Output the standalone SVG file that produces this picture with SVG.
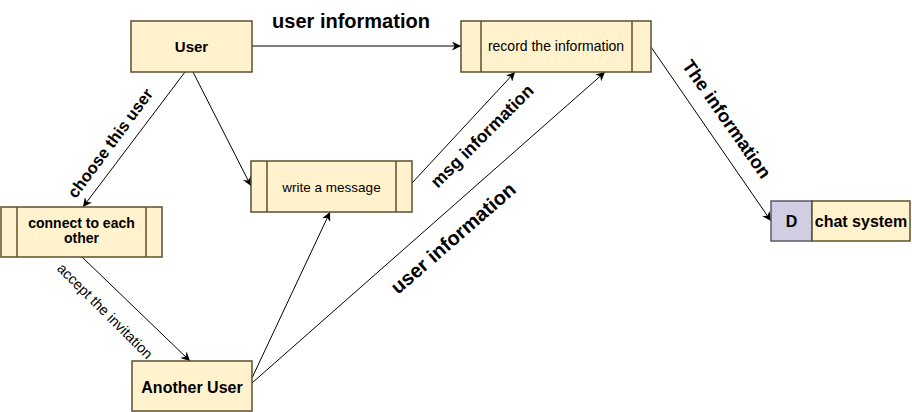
<svg xmlns="http://www.w3.org/2000/svg" width="912" height="412" viewBox="0 0 912 412">
<defs>
<marker id="arr" viewBox="0 0 10 10" refX="10" refY="5" markerWidth="9" markerHeight="9" markerUnits="userSpaceOnUse" orient="auto">
<path d="M0,0 L10,5 L0,10 L3,5 z" fill="#000"/>
</marker>
<style>
.box{fill:#fff2cc;stroke:#5c4f2e;stroke-width:1.5}
.div{stroke:#5c4f2e;stroke-width:1.5;fill:none}
.db{fill:#d0cee2;stroke:#5c5a6a;stroke-width:1.5}
.t{font-family:"Liberation Sans",Arial,sans-serif;fill:#000;text-anchor:middle}
.b{font-weight:bold}
.edge{stroke:#000;stroke-width:1;fill:none;marker-end:url(#arr)}
</style>
</defs>
<rect width="912" height="412" fill="#fff"/>
<g id="connectors">
<line class="edge" x1="252" y1="46" x2="461" y2="46"/>
<line class="edge" x1="185" y1="72" x2="83" y2="207"/>
<line class="edge" x1="193" y1="72" x2="251" y2="186"/>
<line class="edge" x1="82" y1="257" x2="190" y2="361"/>
<line class="edge" x1="252" y1="378" x2="330" y2="212"/>
<line class="edge" x1="412" y1="183" x2="515" y2="72"/>
<line class="edge" x1="252" y1="383" x2="605" y2="72"/>
<line class="edge" x1="651" y1="47" x2="771" y2="221"/>
<text class="t b" x="351" y="28" font-size="20">user information</text>
<text class="t b" font-size="16.5" transform="translate(110,143) rotate(-53.5)" x="0" y="6">choose this user</text>
<text class="t" font-size="14.5" transform="translate(105,311) rotate(45)" x="0" y="5">accept the invitation</text>
<text class="t b" font-size="17.5" transform="translate(482,136) rotate(-45)" x="0" y="6">msg information</text>
<text class="t b" font-size="20" transform="translate(453,238) rotate(-41)" x="0" y="7">user information</text>
<text class="t b" font-size="18.5" transform="translate(727,119) rotate(55)" x="0" y="6.5">The information</text>
</g>
<g id="user">
<rect class="box" x="131" y="21" width="121" height="51"/>
<text class="t b" x="191.5" y="52" font-size="15">User</text>
</g>
<g id="record">
<rect class="box" x="461" y="21" width="190" height="51"/>
<line class="div" x1="481" y1="21" x2="481" y2="72"/>
<line class="div" x1="632" y1="21" x2="632" y2="72"/>
<text class="t" x="556" y="51" font-size="14">record the information</text>
</g>
<g id="write">
<rect class="box" x="251" y="161" width="161" height="51"/>
<line class="div" x1="267" y1="161" x2="267" y2="212"/>
<line class="div" x1="396" y1="161" x2="396" y2="212"/>
<text class="t" x="331.5" y="192" font-size="13.5">write a message</text>
</g>
<g id="connect">
<rect class="box" x="1" y="207" width="161" height="50"/>
<line class="div" x1="17" y1="207" x2="17" y2="257"/>
<line class="div" x1="146" y1="207" x2="146" y2="257"/>
<text class="t b" x="81.5" y="228" font-size="14">connect to each</text>
<text class="t b" x="81.5" y="243" font-size="14">other</text>
</g>
<g id="another">
<rect class="box" x="132" y="361" width="120" height="50"/>
<text class="t b" x="192" y="392.5" font-size="16">Another User</text>
</g>
<g id="chat">
<rect class="db" x="771" y="201" width="41" height="40"/>
<rect class="box" x="812" y="201" width="98" height="40"/>
<text class="t b" x="791.5" y="227" font-size="16">D</text>
<text class="t b" x="861" y="227" font-size="16">chat system</text>
</g>
</svg>
